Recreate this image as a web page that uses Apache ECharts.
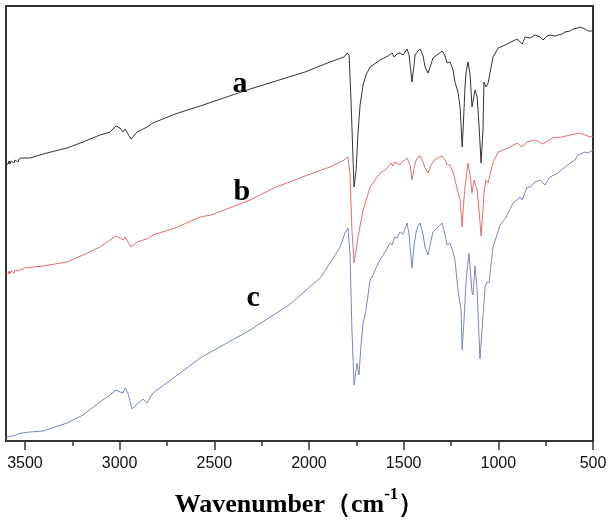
<!DOCTYPE html>
<html>
<head>
<meta charset="utf-8">
<script src="https://cdn.jsdelivr.net/npm/echarts@6/dist/echarts.min.js"></script>
<style>html,body{margin:0;padding:0;background:#fff}#c{width:610px;height:526px}</style>
</head>
<body>
<div id="c"></div>
<script>
// Tick values (wavenumber, cm-1)
const majorTicks = [500, 1000, 1500, 2000, 2500, 3000, 3500];
const minorTicks = [750, 1250, 1750, 2250, 2750, 3250];
const seriesNames = ['a', 'b', 'c'];
// Spectra: [wavenumber, transmittance (a.u.)]
const specA = [[3600,277],[3594,279],[3589,277],[3584,280],[3579,277],[3573,280],[3568,278],[3563,281],[3558,278],[3552,281],[3547,279],[3542,282],[3537,279],[3531,282],[3526,280],[3520,283],[3515,281],[3500,283],[3473,283],[3405,287],[3278,293],[3193,299],[3104,306],[3051,309],[3019,315],[2998,313],[2982,309],[2971,312],[2940,302],[2908,309],[2876,312],[2855,314],[2824,318],[2707,327],[2575,335],[2311,352],[2021,369],[1889,379],[1815,384],[1799,388],[1788,386],[1778,341],[1767,281],[1762,254],[1751,271],[1741,308],[1730,336],[1714,356],[1699,366],[1677,374],[1662,376],[1625,381],[1582,385],[1561,388],[1551,384],[1546,385],[1535,387],[1519,388],[1503,386],[1482,392],[1471,386],[1456,359],[1445,376],[1440,386],[1424,390],[1413,392],[1397,385],[1387,374],[1371,368],[1355,377],[1345,383],[1318,387],[1297,390],[1281,385],[1271,378],[1255,379],[1239,371],[1229,359],[1213,349],[1202,334],[1197,316],[1191,294],[1186,311],[1176,354],[1170,369],[1160,379],[1149,366],[1139,334],[1134,333],[1123,351],[1112,344],[1102,316],[1091,278],[1081,311],[1076,359],[1065,354],[1054,358],[1028,384],[1001,393],[964,396],[901,402],[874,397],[859,404],[832,403],[806,406],[779,404],[764,401],[743,405],[727,406],[700,405],[685,406],[663,407],[648,409],[621,410],[605,412],[579,413],[568,414],[542,412],[526,410],[500,410]];
const specB = [[3600,167],[3594,169],[3589,167],[3584,170],[3579,167],[3573,170],[3568,168],[3563,171],[3558,168],[3552,171],[3547,169],[3542,172],[3537,170],[3531,172],[3526,171],[3500,173],[3405,175],[3278,179],[3193,186],[3104,194],[3051,201],[3019,205],[2998,203],[2982,201],[2971,204],[2940,194],[2908,199],[2876,201],[2855,202],[2824,206],[2707,213],[2575,224],[2517,226],[2311,241],[2185,253],[2021,265],[1979,268],[1889,274],[1815,281],[1794,284],[1783,266],[1773,211],[1762,178],[1751,191],[1741,204],[1714,231],[1677,254],[1651,261],[1625,268],[1598,271],[1582,274],[1567,278],[1556,275],[1546,279],[1535,278],[1519,276],[1508,279],[1493,281],[1482,283],[1466,276],[1456,261],[1445,273],[1434,281],[1424,284],[1413,285],[1397,279],[1387,273],[1371,268],[1355,276],[1345,279],[1324,283],[1297,285],[1281,281],[1271,276],[1255,276],[1239,269],[1229,261],[1213,249],[1202,241],[1191,214],[1186,231],[1176,254],[1160,278],[1149,266],[1139,248],[1128,261],[1112,251],[1102,231],[1091,205],[1081,231],[1076,248],[1065,261],[1054,258],[1044,266],[1028,278],[1001,289],[949,293],[901,298],[874,294],[848,299],[806,301],[764,297],[716,303],[663,304],[621,306],[568,308],[542,306],[515,304],[500,305]];
const specC = [[3600,3],[3579,5],[3558,5],[3537,7],[3515,8],[3473,9],[3405,10],[3278,18],[3193,26],[3104,39],[3051,46],[3019,51],[2998,49],[2982,48],[2971,53],[2956,48],[2934,32],[2908,37],[2876,42],[2855,38],[2824,48],[2744,59],[2575,83],[2311,111],[2105,136],[1936,164],[1836,194],[1810,208],[1794,213],[1783,186],[1773,111],[1762,56],[1746,78],[1736,66],[1725,96],[1714,118],[1699,131],[1677,161],[1667,164],[1646,173],[1625,181],[1598,189],[1572,198],[1561,196],[1546,204],[1535,203],[1519,209],[1503,207],[1482,218],[1471,206],[1456,173],[1445,196],[1434,209],[1424,215],[1413,218],[1397,206],[1387,194],[1371,186],[1355,201],[1345,209],[1324,213],[1297,218],[1281,206],[1271,196],[1255,198],[1239,189],[1229,181],[1213,151],[1197,131],[1191,91],[1181,121],[1170,161],[1155,188],[1139,149],[1134,146],[1123,175],[1112,151],[1097,82],[1086,111],[1070,154],[1060,159],[1049,158],[1028,194],[1007,206],[991,216],[964,222],[949,228],[922,238],[901,241],[885,244],[874,241],[848,254],[832,254],[806,259],[779,261],[753,256],[727,264],[685,268],[648,274],[621,278],[595,281],[579,286],[542,289],[526,288],[500,291]];

const chart = echarts.init(document.getElementById('c'), null, {renderer: 'canvas'});
const labelStyle = {show: true, position: 'inside', fontFamily: 'Liberation Serif', fontWeight: 'bold', fontSize: 30, color: '#000'};
function mk(name, data, color, coord) {
  return {
    name: name, type: 'line', data: data, showSymbol: false, symbol: 'none',
    lineStyle: {color: color, width: 1}, itemStyle: {color: color},
    animation: false, silent: true,
    markPoint: {symbol: 'circle', symbolSize: 0, silent: true,
      data: [{coord: coord}],
      label: Object.assign({formatter: name}, labelStyle)}
  };
}
chart.setOption({
  animation: false,
  grid: {left: 6, right: 17, top: 6, bottom: 85, show: true, borderColor: '#333', borderWidth: 2, containLabel: false},
  xAxis: [{
    type: 'value', inverse: true, min: 500, max: 3600, interval: 500, position: 'bottom',
    axisLine: {show: true, onZero: false, lineStyle: {color: '#333', width: 2}},
    axisTick: {show: true, length: 9, customValues: majorTicks, lineStyle: {color: '#333', width: 1.5}},
    axisLabel: {show: true, customValues: majorTicks, margin: 15, fontFamily: 'Liberation Sans', fontSize: 16, color: '#111',
      formatter: function (v) { return String(v); }},
    splitLine: {show: false},
    name: '{t|Wavenumber（cm}{s|-1}{t|）}', nameLocation: 'middle', nameGap: 45,
    nameTextStyle: {rich: {
      t: {fontFamily: 'Liberation Serif', fontWeight: 'bold', fontSize: 26, color: '#000', lineHeight: 32, verticalAlign: 'bottom'},
      s: {fontFamily: 'Liberation Serif', fontWeight: 'bold', fontSize: 17, color: '#000', lineHeight: 32, verticalAlign: 'top', padding: [0,0,14,0]}
    }}
  }, {
    type: 'value', inverse: true, min: 500, max: 3600, interval: 250, position: 'bottom',
    axisLine: {show: false, onZero: false},
    axisTick: {show: true, length: 5, customValues: minorTicks, lineStyle: {color: '#333', width: 1.5}},
    axisLabel: {show: false}, splitLine: {show: false}
  }],
  yAxis: {type: 'value', min: 0, max: 435, show: false},
  series: [
    mk(seriesNames[0], specA, '#333333', [2364, 357]),
    mk(seriesNames[1], specB, '#e46c6c', [2354, 249]),
    mk(seriesNames[2], specC, '#7886c0', [2295, 143])
  ]
});
</script>
</body>
</html>
